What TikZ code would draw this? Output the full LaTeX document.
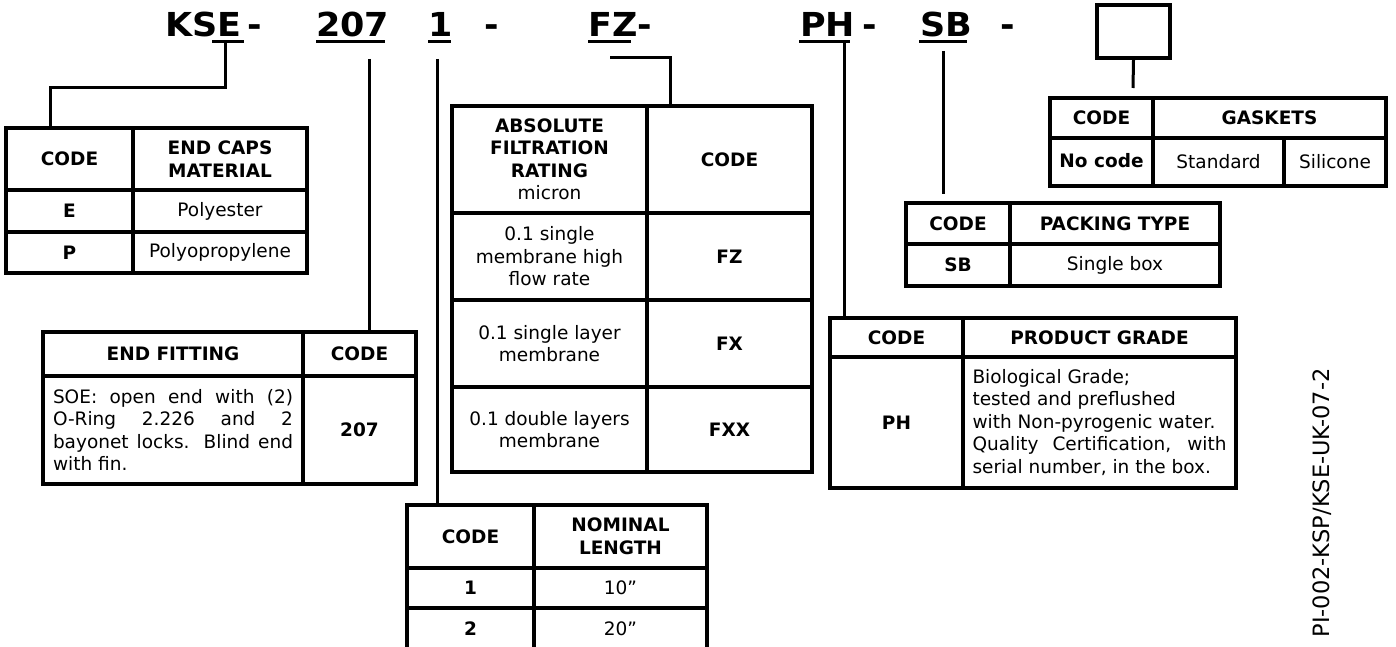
\documentclass[tikz,border=0pt]{standalone}
\usepackage{fontspec}
\setmainfont{DejaVu Sans}
\newfontfamily\hdrfont[FakeStretch=1.06]{DejaVu Sans}
\tikzset{
  hdr/.style={font=\fontsize{33}{40}\hdrfont\bfseries, inner sep=0pt, anchor=base west},
  cell/.style={draw, line width=3.2pt, inner sep=0pt, align=center, font=\fontsize{18.5}{22.5}\selectfont},
  conn/.style={line width=3pt},
  uline/.style={line width=3pt},
}
\newcommand\tcell[6]{%
  \pgfmathsetmacro\cx{(#2+#4)/2}\pgfmathsetmacro\cy{(#3+#5)/2}%
  \pgfmathsetmacro\cw{#4-#2}\pgfmathsetmacro\ch{#5-#3}%
  \node[cell, minimum width=\cw pt, minimum height=\ch pt] (#1) at (\cx,\cy) {#6};}
\begin{document}
\begin{tikzpicture}[x=1pt,y=-1pt]
\useasboundingbox (0,0) rectangle (1396,647);
% header
\node[hdr] (kse) at (165,37) {KSE};
\node[hdr] (d1) at (247,37) {-};
\node[hdr] (n207) at (316,37) {207};
\node[hdr] (n1) at (428,37) {1};
\node[hdr] (d2) at (484,37) {-};
\node[hdr] (fz) at (588,37) {FZ};
\node[hdr] (d3) at (637,37) {-};
\node[hdr] (ph) at (800,37) {PH};
\node[hdr] (d4) at (862,37) {-};
\node[hdr] (sb) at (920,37) {SB};
\node[hdr] (d5) at (1000,37) {-};
\draw[uline] (212,42) -- (244,42);
\draw[uline] (316,42) -- (385,42);
\draw[uline] (428,42) -- (451,42);
\draw[uline] (588,42) -- (631,42);
\draw[uline] (799,42) -- (850,42);
\draw[uline] (919,42) -- (967,42);
\node[draw, line width=3.2pt, minimum width=73pt, minimum height=53pt, inner sep=0pt] (box) at (1133.5,31.5) {};

% table 1: end caps
\tcell{t1a}{6}{128}{133}{190}{\bfseries CODE}
\tcell{t1b}{133}{128}{307}{190}{\bfseries END CAPS\\\bfseries MATERIAL}
\tcell{t1c}{6}{190}{133}{232}{\bfseries E}
\tcell{t1d}{133}{190}{307}{232}{Polyester}
\tcell{t1e}{6}{232}{133}{273}{\bfseries P}
\tcell{t1f}{133}{232}{307}{273}{Polyopropylene}

% table 2: end fitting
\tcell{t2a}{43}{332}{303}{376}{\bfseries END FITTING}
\tcell{t2b}{303}{332}{416}{376}{\bfseries CODE}
\tcell{t2c}{43}{376}{303}{484}{\parbox{240pt}{\makebox[240pt][s]{SOE: open end with (2)}\\\makebox[240pt][s]{O-Ring 2.226 and 2}\\\makebox[240pt][s]{bayonet locks. Blind end}\\with fin.}}
\tcell{t2d}{303}{376}{416}{484}{\bfseries 207}

% table 3: filtration
\tcell{t3a}{452}{106}{647}{213}{\bfseries ABSOLUTE\\\bfseries FILTRATION\\\bfseries RATING\\\mdseries micron}
\tcell{t3b}{647}{106}{812}{213}{\bfseries CODE}
\tcell{t3c}{452}{213}{647}{300}{0.1 single\\membrane high\\flow rate}
\tcell{t3d}{647}{213}{812}{300}{\bfseries FZ}
\tcell{t3e}{452}{300}{647}{387}{0.1 single layer\\membrane}
\tcell{t3f}{647}{300}{812}{387}{\bfseries FX}
\tcell{t3g}{452}{387}{647}{472}{0.1 double layers\\membrane}
\tcell{t3h}{647}{387}{812}{472}{\bfseries FXX}

% table 4: nominal length
\tcell{t4a}{407}{505}{534}{568}{\bfseries CODE}
\tcell{t4b}{534}{505}{707}{568}{\bfseries NOMINAL\\\bfseries LENGTH}
\tcell{t4c}{407}{568}{534}{608}{\bfseries 1}
\tcell{t4d}{534}{568}{707}{608}{10”}
\tcell{t4e}{407}{608}{534}{650}{\bfseries 2}
\tcell{t4f}{534}{608}{707}{650}{20”}

% table 5: product grade
\tcell{t5a}{830}{318}{963}{357}{\bfseries CODE}
\tcell{t5b}{963}{318}{1236}{357}{\bfseries PRODUCT GRADE}
\tcell{t5c}{830}{357}{963}{488}{\bfseries PH}
\tcell{t5d}{963}{357}{1236}{488}{\parbox{254pt}{Biological Grade;\\tested and preflushed\\with Non-pyrogenic water.\\\makebox[254pt][s]{Quality Certification, with}\\serial number, in the box.}}

% table 6: packing
\tcell{t6a}{906}{203}{1010}{244}{\bfseries CODE}
\tcell{t6b}{1010}{203}{1220}{244}{\bfseries PACKING TYPE}
\tcell{t6c}{906}{244}{1010}{286}{\bfseries SB}
\tcell{t6d}{1010}{244}{1220}{286}{Single box}

% table 7: gaskets
\tcell{t7a}{1050}{98}{1153}{138}{\bfseries CODE}
\tcell{t7b}{1153}{98}{1386}{138}{\bfseries GASKETS}
\tcell{t7c}{1050}{138}{1153}{186}{\raisebox{3pt}{\bfseries No code}}
\tcell{t7d}{1153}{138}{1284}{186}{Standard}
\tcell{t7e}{1284}{138}{1386}{186}{Silicone}

% connectors
\coordinate (uE) at (225,42);
\coordinate (jE) at (50,88);
\draw[conn] (uE) |- (jE) -- (jE |- t1a.north);
\coordinate (s207) at (369,59);
\draw[conn] (s207) -- (s207 |- t2b.north);
\coordinate (s1) at (437,59);
\draw[conn] (s1) -- (s1 |- t4a.north);
\coordinate (sFZ) at (610,58);
\coordinate (jFZ) at (670,58);
\draw[conn] (sFZ) -- (jFZ) -- (jFZ |- t3b.north);
\coordinate (sPH) at (844,42);
\draw[conn] (sPH) -- (sPH |- t5a.north);
\coordinate (sSB) at (943,51);
\coordinate (eSB) at (943,194);
\draw[conn] (sSB) -- (eSB);
\coordinate (eBox) at (1133,88);
\draw[conn] (box.south) -- (eBox);

% document code
\node[rotate=90, anchor=base, inner sep=0pt, font=\fontsize{22.5}{27}\selectfont] (doc) at (1329,503) {PI-002-KSP/KSE-UK-07-2};
\end{tikzpicture}
\end{document}
